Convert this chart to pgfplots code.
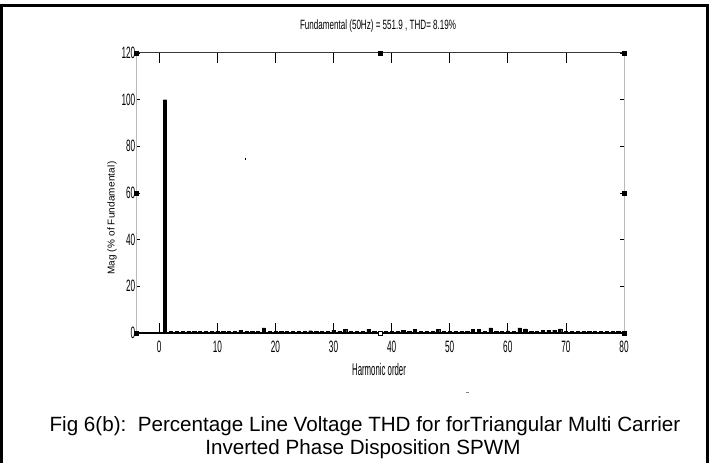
\documentclass[border=0pt]{standalone}
\usepackage{fontspec}
\setmainfont{Liberation Sans}
\newfontfamily\ticksfont[FakeStretch=0.5]{Liberation Sans}
\newfontfamily\titlefont[FakeStretch=0.6]{Liberation Sans}
\newfontfamily\xlabfont[FakeStretch=0.46]{Liberation Sans}
\newfontfamily\ylabfont[LetterSpace=2]{Liberation Sans}
\usepackage{pgfplots}
\pgfplotsset{compat=1.18}

\begin{document}
\begin{tikzpicture}
\useasboundingbox (0,0) rectangle (713bp,463bp);
% outer frame (bottom side cut off in the reference)
\draw[line width=3.5bp] (1.6bp,0) -- (1.6bp,457.5bp) -- (707.5bp,457.5bp) -- (707.5bp,0);

\begin{axis}[
    at={(136bp,130bp)}, anchor=south west,
    scale only axis, width=488bp, height=280bp,
    xmin=-4, xmax=80, ymin=0, ymax=120,
    xtick={0,10,...,80}, ytick={0,20,...,120},
    tick align=inside,
    xtick style={black, line width=0.8bp, /pgfplots/major tick length=10bp},
    ytick style={black, line width=0.8bp, /pgfplots/major tick length=4bp},
    axis line style={gray!55, line width=1bp},
    /pgf/number format/assume math mode=true,
    tick label style={font=\ticksfont\fontsize{16.5}{16.5}\selectfont},
    yticklabel style={inner xsep=0.5bp},
    xticklabel style={yshift=-5bp},
    title={\titlefont\fontsize{13.5}{14}\selectfont Fundamental (50Hz) = 551.9 , THD= 8.19\%},
    title style={at={(axis description cs:0.496,1.075)}, anchor=center},
    xlabel={\xlabfont\fontsize{17}{17}\selectfont Harmonic order},
    xlabel style={at={(axis description cs:0.498,-0.129)}, anchor=center},
    ylabel={\ylabfont\fontsize{10}{10}\selectfont Mag (\% of Fundamental)},
    ylabel style={at={(axis description cs:-0.049,0.41)}, anchor=center, rotate=0},
    clip=false,
]
% harmonic spectrum
\addplot[ybar, bar width=0.55, fill=black, draw=black, line width=0.3bp] coordinates {
 (1,100) (2,0.6) (3,0.6) (4,0.6) (5,0.6) (6,0.6) (7,0.6) (8,0.6) (9,0.6) (10,0.7)
 (11,0.6) (12,0.6) (13,0.6) (14,1.2) (15,0.6) (16,0.6) (17,0.6) (18,2.2) (19,0.6) (20,0.7)
 (21,0.6) (22,0.6) (23,0.6) (24,0.6) (25,0.6) (26,1.0) (27,0.6) (28,0.6) (29,0.6) (30,1.2)
 (31,0.6) (32,1.7) (33,0.6) (34,0.6) (35,0.6) (36,1.7) (37,0.8) (38,0.6) (39,0.6) (40,0.6)
 (41,0.6) (42,1.2) (43,0.6) (44,1.7) (45,0.6) (46,0.6) (47,0.6) (48,1.6) (49,0.7) (50,0.8)
 (51,0.6) (52,0.6) (53,0.6) (54,1.6) (55,1.6) (56,0.6) (57,2.2) (58,0.6) (59,0.6) (60,0.9)
 (61,0.6) (62,2.2) (63,1.8) (64,0.6) (65,0.6) (66,1.2) (67,1.2) (68,1.2) (69,1.8) (70,0.6)
 (71,0.6) (72,0.6) (73,0.6) (74,0.6) (75,0.6) (76,0.6) (77,0.6) (78,0.6) (79,0.6)
};
\draw[gray!45!black, line width=1bp] (axis cs:-4,120) -- (axis cs:80,120);
\draw[black, line width=1.2bp] (axis cs:-4,0) -- (axis cs:80,0);
% selection handles
\addplot[only marks, mark=square*, mark size=2bp, black] coordinates {
 (-4,0) (-4,60) (-4,120) (38,120) (80,120) (80,60) (80,0)
};
\addplot[only marks, mark=square*, mark size=2bp, mark options={fill=white, draw=black}] coordinates {(38,0)};
% stray specks
\addplot[only marks, mark=|, mark size=1.2bp, black] coordinates {(14.8,74.6)};
\addplot[only marks, mark=-, mark size=1.5bp, gray] coordinates {(53,-25.3)};
\end{axis}

\node[anchor=base, font=\fontsize{20.7}{24}\selectfont] at (365bp,32bp)
  {Fig 6(b):\ \ Percentage Line Voltage THD for forTriangular Multi Carrier};
\node[anchor=base, font=\fontsize{20.7}{24}\selectfont] at (363bp,9bp)
  {Inverted Phase Disposition SPWM};
\end{tikzpicture}
\end{document}
